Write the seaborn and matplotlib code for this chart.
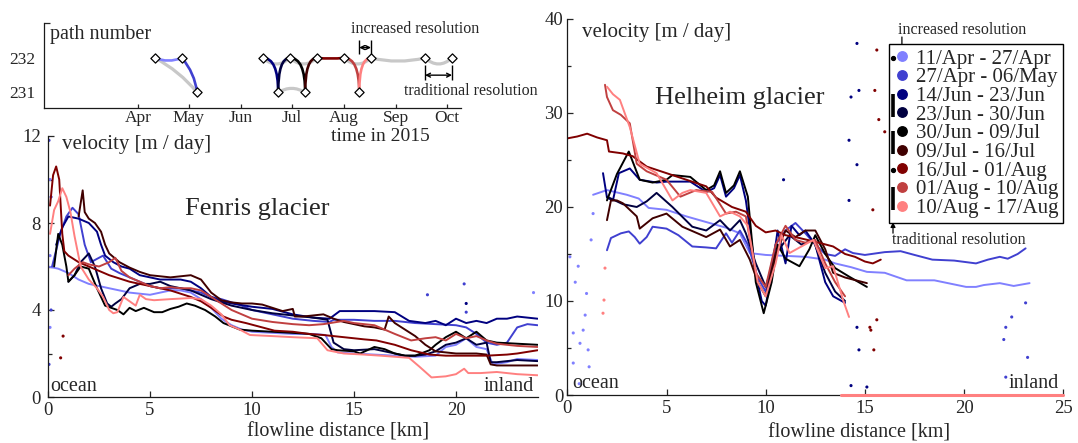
import numpy as np
import pandas as pd
import matplotlib
matplotlib.use("Agg")
import matplotlib.pyplot as plt
import seaborn as sns
from matplotlib.patches import FancyArrowPatch
from matplotlib.lines import Line2D

# ---------------- data ----------------
period_start = ['2015-04-11', '2015-04-27', '2015-06-14', '2015-06-23', '2015-06-30',
                '2015-07-09', '2015-07-16', '2015-08-01', '2015-08-10']
period_end = ['2015-04-27', '2015-05-06', '2015-06-23', '2015-06-30', '2015-07-09',
              '2015-07-16', '2015-08-01', '2015-08-10', '2015-08-17']
path_start = [232, 232, 232, 231, 232, 231, 232, 232, 231]
path_end = [232, 231, 231, 232, 231, 232, 232, 231, 232]
period_colors = ['#8080ff', '#4040d0', '#000080', '#000040', '#000000',
                 '#400000', '#800000', '#c04040', '#ff8080']

trad_start = ['2015-04-11', '2015-06-14', '2015-06-23', '2015-06-30', '2015-08-01', '2015-08-17', '2015-09-18']
trad_end = ['2015-05-06', '2015-06-30', '2015-07-09', '2015-07-16', '2015-08-17', '2015-09-18', '2015-10-04']
trad_path_start = [232, 232, 231, 232, 232, 232, 232]
trad_path_end = [231, 232, 231, 232, 232, 232, 232]

month_ticks = ['2015-04-01', '2015-05-01', '2015-06-01', '2015-07-01', '2015-08-01', '2015-09-01', '2015-10-01']

# Fenris glacier (flowline km, velocity m/day)
fen1_km = [0.0, 0.5, 1.0, 1.5, 2.0, 2.5, 3.0, 3.5, 4.0, 4.5, 5.0, 5.5, 6.0, 6.5, 7.0, 7.5, 8.0, 8.5, 9.0, 9.5, 10.0, 11.0, 12.0, 13.0, 13.6, 13.9, 14.2, 15.0, 16.0, 17.0, 18.0, 19.0, 19.5, 20.0, 20.5, 21.0, 21.5, 21.8, 22.5, 23.0, 24.0]
fen1_v = [6.0, 5.9, 5.7, 5.4, 5.2, 5.1, 5.0, 4.9, 4.8, 4.75, 4.7, 4.8, 4.9, 4.9, 4.8, 4.5, 4.1, 3.6, 3.3, 3.1, 3.0, 2.95, 2.9, 2.9, 2.85, 2.3, 2.05, 2.0, 1.95, 1.9, 1.85, 1.9, 2.3, 2.4, 2.7, 2.3, 2.2, 1.5, 1.6, 1.75, 1.7]
fen2_km = [0.2, 0.6, 0.9, 1.2, 1.5, 1.8, 2.1, 2.5, 2.7, 3.1, 3.5, 4.0, 4.5, 5.0, 5.5, 6.0, 6.5, 7.0, 7.5, 8.0, 8.5, 9.0, 9.5, 10.0, 11.0, 12.0, 13.0, 13.8, 14.0, 15.0, 16.0, 17.0, 18.0, 19.0, 20.0, 20.5, 21.0, 21.5, 22.0, 22.5, 23.0, 23.5, 24.0]
fen2_v = [6.0, 7.5, 8.3, 8.7, 8.4, 7.0, 6.2, 6.4, 6.5, 5.9, 5.7, 5.5, 5.3, 5.1, 5.0, 5.0, 5.0, 4.9, 4.8, 4.6, 4.5, 4.35, 4.2, 4.0, 3.8, 3.6, 3.5, 3.45, 3.55, 3.55, 3.5, 3.5, 3.4, 3.35, 3.3, 3.2, 2.9, 2.5, 2.4, 2.5, 3.2, 3.35, 3.3]
fen3_km = [0.4, 0.7, 1.0, 1.5, 2.0, 2.4, 2.6, 2.8, 3.2, 3.6, 4.0, 4.5, 5.0, 5.5, 6.0, 6.5, 7.0, 7.5, 8.0, 8.5, 9.0, 10.0, 11.0, 12.0, 13.0, 13.8, 14.3, 15.0, 16.0, 17.0, 17.7, 18.5, 19.0, 19.5, 20.0, 20.5, 21.0, 21.5, 22.0, 22.5, 23.0, 24.0]
fen3_v = [7.0, 7.8, 8.3, 8.2, 8.0, 7.6, 7.0, 6.5, 6.2, 6.0, 5.9, 5.6, 5.5, 5.4, 5.4, 5.4, 5.3, 5.0, 4.6, 4.4, 4.3, 4.15, 4.05, 3.8, 3.65, 3.6, 3.95, 3.95, 3.95, 3.9, 3.5, 3.4, 3.5, 3.3, 3.6, 3.4, 3.5, 3.4, 3.6, 3.6, 3.7, 3.6]
fen4_km = [1.0, 1.3, 1.6, 2.0, 2.3, 2.6, 2.9, 3.1, 3.3, 3.6, 4.0, 4.5, 5.0, 5.5, 6.0, 6.5, 7.0, 7.5, 8.0, 9.0, 10.0, 11.0, 12.0, 13.0, 13.7, 14.0, 14.5, 15.0, 16.0, 17.0, 17.5, 18.0, 18.5, 19.0, 19.5, 20.0, 20.5, 21.0, 21.5, 21.7, 22.0, 23.0, 24.0]
fen4_v = [5.3, 5.6, 6.2, 6.6, 6.0, 5.0, 4.3, 4.15, 4.3, 4.5, 5.0, 5.2, 5.2, 5.3, 5.1, 5.0, 4.9, 4.7, 4.5, 4.2, 4.0, 3.85, 3.75, 3.65, 3.55, 2.5, 2.2, 2.15, 2.2, 2.0, 1.9, 1.9, 1.95, 2.1, 2.4, 2.5, 2.7, 2.4, 2.5, 1.6, 1.6, 1.7, 1.65]
fen5_km = [0.3, 0.5, 0.7, 0.9, 1.0, 1.3, 1.6, 2.0, 2.4, 2.8, 3.1, 3.4, 3.7, 4.0, 4.3, 4.7, 5.2, 5.6, 6.0, 6.4, 6.8, 7.2, 7.7, 8.2, 8.6, 9.0, 9.4, 10.0, 11.0, 12.0, 12.8, 13.4, 13.9, 14.2, 15.0, 15.3, 16.0, 16.5, 17.0, 17.5, 18.0, 18.7, 19.0, 19.5, 20.0, 20.5, 21.0, 21.5, 22.0, 23.0, 24.0]
fen5_v = [6.0, 7.5, 7.0, 6.0, 5.3, 5.6, 6.0, 5.9, 5.0, 4.2, 4.1, 4.0, 3.8, 4.1, 3.95, 4.1, 3.9, 3.9, 4.05, 4.15, 4.3, 4.2, 4.0, 3.7, 3.4, 3.25, 3.1, 3.05, 3.0, 2.95, 2.9, 2.7, 2.2, 2.15, 2.1, 2.0, 2.3, 2.2, 2.0, 1.9, 1.9, 2.15, 2.4, 2.75, 3.0, 2.7, 3.0, 2.6, 2.5, 2.45, 2.4]
fen6_km = [1.5, 1.7, 1.8, 2.0, 2.3, 2.6, 2.8, 3.0, 3.5, 4.0, 4.5, 5.0, 5.5, 6.0, 6.5, 7.0, 7.5, 8.0, 8.5, 9.0, 9.5, 10.0, 10.5, 11.0, 11.5, 12.0, 12.1, 12.5, 13.0, 13.5, 14.0, 14.5, 15.0, 15.5, 16.0, 16.5, 16.7, 17.0, 17.5, 18.0, 18.5, 19.0, 20.0, 21.0, 21.5, 21.7, 22.0, 23.0, 24.0]
fen6_v = [8.3, 9.5, 8.5, 8.2, 8.0, 7.6, 7.0, 6.6, 6.2, 5.95, 5.75, 5.6, 5.55, 5.5, 5.55, 5.6, 5.4, 4.8, 4.45, 4.35, 4.3, 4.3, 4.25, 4.1, 3.95, 4.05, 3.7, 3.7, 3.75, 3.8, 3.6, 3.45, 3.35, 3.25, 3.2, 3.1, 3.7, 3.4, 3.1, 2.8, 2.4, 2.1, 2.0, 2.0, 1.95, 1.5, 1.45, 1.45, 1.45]
fen7_km = [0.1, 0.25, 0.4, 0.55, 0.7, 0.8, 1.0, 1.5, 2.0, 2.5, 3.0, 3.5, 4.0, 4.5, 5.0, 6.0, 7.0, 7.5, 8.0, 8.6, 9.0, 9.7, 10.5, 11.1, 12.0, 12.8, 13.5, 14.5, 15.5, 16.1, 17.0, 17.8, 18.7, 19.5, 20.4, 21.5, 22.5, 23.0, 24.0]
fen7_v = [8.8, 10.2, 10.6, 10.0, 7.5, 6.7, 6.5, 6.2, 6.0, 5.8, 5.6, 5.45, 5.3, 5.2, 5.1, 4.9, 4.6, 4.4, 4.1, 3.7, 3.55, 3.4, 3.2, 3.05, 3.0, 2.9, 2.85, 2.75, 2.65, 2.6, 2.4, 2.15, 1.95, 1.9, 1.9, 1.9, 1.95, 2.0, 2.15]
fen8_km = [1.0, 1.3, 1.7, 2.0, 2.5, 3.0, 3.3, 3.6, 4.0, 4.5, 5.0, 5.5, 6.0, 6.5, 7.0, 7.5, 8.0, 8.5, 9.0, 9.5, 10.0, 11.0, 12.0, 12.8, 13.5, 14.5, 15.0, 16.0, 16.5, 17.0, 17.8, 18.5, 19.0, 19.5, 20.0, 20.5, 21.0, 21.5, 22.0, 23.0, 24.0]
fen8_v = [5.6, 5.9, 6.2, 6.1, 6.0, 6.2, 6.4, 5.8, 5.5, 5.3, 5.1, 5.0, 5.05, 5.0, 5.0, 4.9, 4.6, 4.3, 4.0, 3.8, 3.6, 3.45, 3.35, 3.3, 3.35, 3.5, 3.4, 3.3, 3.1, 2.9, 2.6, 2.7, 2.75, 2.6, 2.9, 2.7, 2.8, 2.6, 2.45, 2.35, 2.3]
fen9_km = [0.1, 0.3, 0.5, 0.7, 0.9, 1.1, 1.3, 1.6, 2.0, 2.4, 2.7, 3.0, 3.2, 3.4, 3.7, 4.0, 4.3, 4.5, 4.8, 5.2, 6.0, 7.0, 7.5, 8.0, 8.5, 8.9, 9.4, 9.9, 11.0, 12.0, 13.2, 13.7, 14.5, 15.5, 16.3, 17.0, 17.7, 18.2, 18.8, 19.5, 20.0, 20.4, 20.6, 21.2, 22.0, 23.0, 24.0]
fen9_v = [7.5, 8.6, 9.0, 9.6, 9.2, 8.5, 7.4, 6.0, 5.4, 5.0, 4.6, 4.0, 3.85, 3.9, 4.6, 4.4, 4.2, 4.7, 4.5, 4.45, 4.5, 4.55, 4.5, 4.2, 3.8, 3.3, 3.1, 2.85, 2.8, 2.75, 2.7, 2.15, 2.0, 1.95, 1.9, 1.85, 1.8, 1.4, 0.9, 0.95, 1.05, 1.3, 1.1, 1.1, 1.15, 1.05, 1.0]
fen_dot_km = [0.05, 0.1, 0.15, 0.1, 0.15, 0.1, 0.05, 0.62, 0.74, 20.4, 20.5, 20.5, 18.6, 23.8]
fen_dot_v = [11.8, 10.0, 9.2, 6.5, 4.0, 3.2, 1.5, 1.8, 2.8, 5.2, 4.3, 3.9, 4.7, 4.8]
fen_dot_series = [1, 0, 1, 0, 1, 0, 1, 6, 6, 1, 2, 1, 1, 0]

# Helheim glacier
hel1_km = [1.3, 2.0, 3.0, 3.6, 4.1, 5.0, 6.0, 7.0, 8.0, 8.7, 9.2, 10.0, 11.0, 12.0, 13.0, 13.5, 14.3, 15.1, 16.0, 17.1, 18.5, 20.1, 20.6, 21.0, 21.8, 22.5, 23.3]
hel1_v = [21.3, 21.8, 21.3, 20.9, 19.9, 19.7, 19.0, 18.4, 17.8, 17.2, 15.1, 14.9, 14.8, 14.7, 14.4, 14.0, 13.6, 13.1, 13.0, 12.2, 12.2, 11.5, 11.5, 11.7, 11.9, 11.6, 11.9]
hel2_km = [2.0, 2.2, 2.7, 3.1, 3.4, 3.65, 4.0, 4.3, 5.0, 5.6, 6.3, 7.0, 7.5, 8.0, 8.3, 8.7, 9.1, 9.6, 10.0, 10.5, 11.0, 11.5, 12.0, 12.5, 13.0, 13.5, 14.0, 14.4, 15.0, 16.0, 16.8, 17.5, 18.4, 19.5, 20.6, 21.2, 21.8, 22.2, 22.7, 23.1]
hel2_v = [15.4, 16.7, 17.2, 17.4, 16.8, 16.1, 16.8, 17.9, 17.7, 17.0, 15.8, 15.7, 15.6, 17.2, 16.2, 17.5, 16.0, 12.5, 11.0, 16.0, 17.5, 18.3, 17.2, 16.0, 15.0, 14.8, 15.5, 15.1, 14.9, 15.2, 15.3, 14.9, 14.4, 14.3, 14.0, 14.4, 14.7, 14.5, 15.0, 15.6]
hel3_km = [1.8, 2.0, 2.3, 2.6, 3.15, 3.65, 4.5, 5.0, 6.2, 7.0, 7.4, 7.7, 8.0, 8.4, 8.7, 9.0, 9.5, 9.8, 10.0, 10.3, 10.6, 11.0, 11.3, 11.7, 12.0, 12.5, 13.0, 13.4, 14.0]
hel3_v = [23.6, 21.0, 20.7, 23.6, 24.1, 22.9, 22.6, 22.7, 22.7, 21.6, 22.0, 23.4, 21.1, 22.0, 23.4, 20.7, 13.0, 10.0, 9.5, 13.0, 17.5, 14.0, 18.0, 17.0, 17.5, 16.0, 12.0, 10.5, 9.8]
hel4_km = [2.0, 2.8, 3.5, 4.0, 4.5, 5.3, 6.3, 7.0, 7.7, 8.2, 8.7, 9.0, 9.5, 10.0, 10.5, 11.2, 11.8, 12.4, 13.0, 13.5, 14.0]
hel4_v = [21.1, 20.3, 20.0, 20.6, 21.5, 20.0, 17.9, 17.5, 18.6, 17.5, 18.6, 17.2, 14.0, 11.5, 15.0, 17.0, 16.0, 16.5, 13.0, 11.0, 10.0]
hel5_km = [2.0, 2.5, 3.1, 3.65, 4.3, 5.0, 5.3, 6.2, 7.0, 7.4, 7.7, 8.0, 8.4, 8.7, 9.1, 9.5, 9.9, 10.3, 10.6, 11.0, 11.7, 12.2, 12.5, 13.0, 13.5, 14.2, 15.1]
hel5_v = [20.7, 23.5, 25.9, 22.9, 22.6, 22.9, 23.4, 23.2, 21.8, 22.3, 23.8, 21.5, 22.3, 23.8, 21.1, 12.0, 8.7, 12.0, 16.0, 14.5, 13.7, 15.5, 17.0, 15.0, 13.5, 12.6, 11.5]
hel6_km = [2.0, 2.2, 2.5, 2.8, 3.5, 3.65, 4.3, 5.0, 5.8, 7.0, 7.7, 8.2, 8.7, 9.2, 9.6, 10.0, 10.5, 11.0, 11.5, 12.0, 12.5, 13.0, 13.4, 14.0, 15.1]
hel6_v = [18.6, 20.7, 20.7, 20.4, 19.0, 17.7, 18.8, 19.3, 17.9, 16.8, 17.6, 15.8, 16.5, 14.4, 12.0, 10.5, 15.0, 17.5, 16.8, 17.5, 17.5, 15.5, 13.0, 12.5, 11.9]
hel7_km = [0.0, 0.5, 1.0, 1.5, 2.0, 2.1, 2.8, 3.3, 4.0, 5.0, 6.0, 7.0, 7.5, 8.3, 9.0, 9.5, 10.0, 10.5, 11.0, 11.7, 12.5, 13.4, 14.0, 14.5, 15.0, 15.4, 15.8]
hel7_v = [27.3, 27.5, 27.8, 27.4, 27.1, 25.9, 25.7, 25.4, 24.3, 23.6, 22.9, 22.2, 21.0, 20.0, 19.5, 18.0, 17.3, 17.5, 17.0, 16.7, 16.3, 15.8, 15.0, 14.7, 14.2, 14.0, 14.4]
hel8_km = [1.9, 2.0, 2.3, 2.7, 3.15, 3.5, 4.0, 5.0, 5.7, 6.5, 7.3, 8.0, 8.5, 9.0, 9.5, 10.0, 10.5, 11.0, 11.5, 12.0, 12.5, 13.0, 13.5, 14.0]
hel8_v = [33.0, 31.7, 30.3, 29.8, 28.9, 24.6, 23.8, 22.9, 21.1, 21.8, 21.6, 19.3, 19.5, 19.0, 13.0, 11.5, 16.0, 18.0, 16.5, 16.2, 16.5, 14.0, 12.0, 10.5]
hel9_km = [2.0, 2.3, 2.65, 3.15, 3.65, 4.5, 5.3, 5.8, 6.2, 7.0, 7.7, 8.2, 8.7, 9.1, 9.6, 10.0, 10.5, 10.8, 11.2, 11.8, 12.4, 13.0, 13.4, 13.9, 14.2]
hel9_v = [32.8, 32.0, 31.4, 28.5, 24.6, 23.6, 20.7, 21.5, 21.8, 21.5, 19.0, 19.5, 19.0, 18.0, 12.0, 10.5, 14.0, 17.0, 15.1, 15.8, 16.5, 13.5, 13.7, 10.1, 8.3]
hel_zero_km = [13.8, 25.0]
hel_zero_v = [0.0, 0.0]
hel_dot_km = [0.13, 0.3, 0.55, 0.64, 0.8, 0.97, 1.1, 1.2, 1.3, 0.6, 1.05, 0.3, 0.4, 0.9,
              1.8, 1.85, 1.9,
              14.6, 14.7, 14.3, 14.2, 14.6, 14.2, 14.6, 14.7, 15.1, 14.3,
              15.6, 15.5, 15.7, 15.4, 15.3, 15.45, 15.25, 15.6, 16.0,
              22.1, 22.0, 23.1, 23.2, 22.4, 22.1, 10.9]
hel_dot_v = [14.7, 6.6, 13.7, 5.5, 6.9, 10.8, 3.0, 16.5, 19.3, 1.2, 4.8, 3.4, 12.0, 8.5,
             8.7, 10.1, 13.5,
             37.4, 32.4, 31.7, 27.1, 24.5, 20.7, 7.2, 4.8, 0.85, 1.0,
             36.7, 32.4, 29.3, 19.7, 6.9, 4.8, 7.2, 8.0, 28.0,
             7.2, 5.9, 9.8, 4.0, 8.3, 1.9, 22.9]
hel_dot_series = [0] * 14 + [8] * 3 + [2] * 10 + [6] * 9 + [1] * 6 + [2]

# legend side marks: pairs of rows joined by a bar, single rows with a dot
pair_rows = [(2, 3), (4, 5), (7, 8)]
single_rows = [0, 6]

# ---------------- style ----------------
sns.set_theme(style='ticks')
plt.rcParams['font.family'] = ['Liberation Serif', 'DejaVu Serif']
plt.rcParams['axes.unicode_minus'] = False

W, H = 1078, 443
fig = plt.figure(figsize=(W / 100, H / 100), dpi=100)


def px_rect(x0, y0, x1, y1):
    return [x0 / W, 1 - y1 / H, (x1 - x0) / W, (y1 - y0) / H]


ax_f = fig.add_axes(px_rect(48, 136, 537.6, 397))
ax_h = fig.add_axes(px_rect(567.3, 19, 1063.3, 395))
ax_p = fig.add_axes(px_rect(43.8, 23.4, 461, 107.6))

start_dt = pd.to_datetime(period_start)
end_dt = pd.to_datetime(period_end)
start_day = start_dt.dayofyear.to_numpy()
end_day = end_dt.dayofyear.to_numpy()
labels = [f"{a} - {b}" for a, b in zip(start_dt.strftime('%d/%b'), end_dt.strftime('%d/%b'))]
palette = dict(zip(labels, period_colors))

for ax in (ax_f, ax_h, ax_p):
    ax.set_facecolor('none')
    for s in ('top', 'right'):
        ax.spines[s].set_visible(False)
    for s in ('left', 'bottom'):
        ax.spines[s].set_linewidth(0.9)
        ax.spines[s].set_color('#1a1a1a')


def long_df(series):
    frames = []
    for lab, (km, v) in zip(labels, series):
        frames.append(pd.DataFrame({'km': km, 'v': v, 'period': lab}))
    return pd.concat(frames, ignore_index=True)


fen_series = [(fen1_km, fen1_v), (fen2_km, fen2_v), (fen3_km, fen3_v), (fen4_km, fen4_v),
              (fen5_km, fen5_v), (fen6_km, fen6_v), (fen7_km, fen7_v), (fen8_km, fen8_v),
              (fen9_km, fen9_v)]
hel_series = [(hel1_km, hel1_v), (hel2_km, hel2_v), (hel3_km, hel3_v), (hel4_km, hel4_v),
              (hel5_km, hel5_v), (hel6_km, hel6_v), (hel7_km, hel7_v), (hel8_km, hel8_v),
              (hel9_km, hel9_v)]

# ---------------- Fenris ----------------
df_f = long_df(fen_series)
sns.lineplot(data=df_f, x='km', y='v', hue='period', hue_order=labels, palette=palette,
             estimator=None, sort=False, linewidth=1.4, legend=False, ax=ax_f)
sns.scatterplot(x=fen_dot_km, y=fen_dot_v, hue=[labels[i] for i in fen_dot_series],
                palette=palette, s=5, linewidth=0, legend=False, ax=ax_f)
ax_f.set_xlim(0, 24)
ax_f.set_ylim(0, 12)
ax_f.set_xticks([0, 5, 10, 15, 20])
ax_f.set_yticks([0, 4, 8, 12])
ax_f.set_yticks([2, 6, 10], minor=True)
ax_f.tick_params(axis='both', which='major', direction='in', length=4, width=0.9, labelsize=13.5)
ax_f.tick_params(axis='y', which='both', pad=5)
ax_f.tick_params(axis='y', which='minor', direction='in', length=3, width=0.9)
ax_f.set_ylabel('')
ax_f.text(0.029, 0.969, 'velocity [m / day]', transform=ax_f.transAxes, ha='left', va='center', fontsize=15)
ax_f.text(0.427, 0.72, 'Fenris glacier', transform=ax_f.transAxes, ha='center', va='center', fontsize=19)
ax_f.text(0.004, 0.005, 'ocean', transform=ax_f.transAxes, ha='left', va='bottom', fontsize=14.5)
ax_f.text(0.993, 0.005, 'inland', transform=ax_f.transAxes, ha='right', va='bottom', fontsize=14.5)

# ---------------- Helheim ----------------
df_h = long_df(hel_series)
sns.lineplot(data=df_h, x='km', y='v', hue='period', hue_order=labels, palette=palette,
             estimator=None, sort=False, linewidth=1.4, legend=False, ax=ax_h)
sns.scatterplot(x=hel_dot_km, y=hel_dot_v, hue=[labels[i] for i in hel_dot_series],
                palette=palette, s=5, linewidth=0, legend=False, ax=ax_h)
sns.lineplot(x=hel_zero_km, y=hel_zero_v, color=period_colors[8], linewidth=2.2, ax=ax_h,
             estimator=None, sort=False, legend=False, clip_on=False, zorder=5)
ax_h.set_xlim(0, 25)
ax_h.set_ylim(0, 40)
ax_h.set_xticks([0, 5, 10, 15, 20, 25])
ax_h.set_yticks([0, 10, 20, 30, 40])
ax_h.set_yticks([5, 15, 25, 35], minor=True)
ax_h.tick_params(axis='both', which='major', direction='in', length=4, width=0.9, labelsize=13.5)
ax_h.tick_params(axis='y', which='both', pad=3)
ax_h.tick_params(axis='y', which='minor', direction='in', length=3, width=0.9)
ax_h.set_ylabel('')
ax_h.text(0.029, 0.965, 'velocity [m / day]', transform=ax_h.transAxes, ha='left', va='center', fontsize=15)
ax_h.text(0.347, 0.789, 'Helheim glacier', transform=ax_h.transAxes, ha='center', va='center', fontsize=19)
ax_h.text(0.01, 0.005, 'ocean', transform=ax_h.transAxes, ha='left', va='bottom', fontsize=14.5)
ax_h.text(0.99, 0.005, 'inland', transform=ax_h.transAxes, ha='right', va='bottom', fontsize=14.5)

handles = [Line2D([], [], ls='none', marker='o', ms=6.8, mfc=c, mec=c) for c in period_colors]
leg = ax_h.legend(handles, labels, loc='upper right', bbox_to_anchor=(1.0, (395 - 44) / 376),
                  bbox_transform=ax_h.transAxes, frameon=True, fancybox=False, edgecolor='black',
                  framealpha=1, fontsize=15, handlelength=0.75, handletextpad=0.3, borderpad=0.25,
                  labelspacing=-0.045, borderaxespad=0)
leg.get_frame().set_linewidth(1.0)

# ---------------- path inset ----------------
ax_p.set_xlim(35.2, 282.3)
ax_p.set_ylim(230.56, 233.0)
month_days = pd.to_datetime(month_ticks).dayofyear.to_numpy()

trad_s = pd.to_datetime(trad_start).dayofyear.to_numpy()
trad_e = pd.to_datetime(trad_end).dayofyear.to_numpy()
trad_rad = [-0.1, 0.45, -0.3, 0.45, 0.45, 0.12, 0.45]
for a, b, pa, pb, r in zip(trad_s, trad_e, trad_path_start, trad_path_end, trad_rad):
    ax_p.add_patch(FancyArrowPatch((a, pa), (b, pb), arrowstyle='-', connectionstyle=f'arc3,rad={r}',
                                   color='#c8c8c8', lw=2.3, shrinkA=0, shrinkB=0, zorder=2))

conn = ['arc3,rad=0.2', 'arc3,rad=-0.15', 'angle3,angleA=0,angleB=90', 'angle3,angleA=90,angleB=0',
        'angle3,angleA=0,angleB=90', 'angle3,angleA=90,angleB=0', 'arc3,rad=0.05',
        'angle3,angleA=0,angleB=90', 'angle3,angleA=90,angleB=0']
for a, b, pa, pb, c, cs in zip(start_day, end_day, path_start, path_end, period_colors, conn):
    ax_p.add_patch(FancyArrowPatch((a, pa), (b, pb), arrowstyle='-', connectionstyle=cs,
                                   color=c, lw=1.9, shrinkA=0, shrinkB=0, zorder=3))

nodes = pd.DataFrame({'day': np.concatenate([start_day, end_day, trad_s, trad_e]),
                      'path': np.concatenate([path_start, path_end, trad_path_start, trad_path_end])}).drop_duplicates()
sns.scatterplot(data=nodes, x='day', y='path', marker='D', s=22, color='white', edgecolor='black',
                linewidth=0.9, zorder=5, legend=False, ax=ax_p, clip_on=False)
ax_p.set_xlim(35.2, 282.3)
ax_p.set_ylim(230.56, 233.0)
ax_p.set_xticks(month_days)
ax_p.set_xticklabels(pd.to_datetime(month_ticks).strftime('%b'))
ax_p.set_yticks([231, 232])
ax_p.set_yticks([233], minor=True)
ax_p.tick_params(axis='x', direction='in', length=3, width=0.9, labelsize=12.5, pad=1.5)
ax_p.tick_params(axis='y', which='major', length=0, labelsize=12.5, pad=6)
ax_p.tick_params(axis='y', which='minor', direction='in', length=4, width=0.9)
ax_p.set_ylabel('')
ax_p.text(0.015, 0.868, 'path number', transform=ax_p.transAxes, ha='left', va='center', fontsize=14.5)

inc_a, inc_b = start_day[8], end_day[8]
ax_p.annotate('', xy=(inc_b, 232.3), xytext=(inc_a, 232.3),
              arrowprops=dict(arrowstyle='<->', lw=1.0, color='black', shrinkA=0, shrinkB=0, mutation_scale=7))
ax_p.vlines([inc_a, inc_b], 232.12, 232.52, color='black', lw=1.0)
ax_p.text(0.891, 0.93, 'increased resolution', transform=ax_p.transAxes, ha='center', va='center',
          fontsize=11.5, clip_on=False)
tr_a, tr_b = trad_s[-1], trad_e[-1]
ax_p.annotate('', xy=(tr_b, 231.5), xytext=(tr_a, 231.5),
              arrowprops=dict(arrowstyle='<->', lw=1.0, color='black', shrinkA=0, shrinkB=0, mutation_scale=7))
ax_p.vlines([tr_a, tr_b], 231.36, 231.8, color='black', lw=1.0)
ax_p.text(1.023, 0.192, 'traditional resolution', transform=ax_p.transAxes, ha='center', va='center',
          fontsize=11.5, clip_on=False)

# axis titles (set last so seaborn does not override them)
ax_f.set_xlabel('flowline distance [km]', fontsize=14.5, va='center')
ax_f.xaxis.set_label_coords(0.592, -0.134)
ax_h.set_xlabel('flowline distance [km]', fontsize=14.5, va='center')
ax_h.xaxis.set_label_coords(0.588, -0.101)
ax_p.set_xlabel('time in 2015', fontsize=14, va='center')
ax_p.xaxis.set_label_coords(0.806, -0.345)

# ---------------- legend side marks ----------------
fig.canvas.draw()
rend = fig.canvas.get_renderer()
fb = leg.get_frame().get_window_extent(rend)
row_y = []
for t in leg.get_texts():
    bb = t.get_window_extent(rend)
    row_y.append((bb.y0 + bb.y1) / 2 + 1)
bar_x = fb.x0 + 4.5
mk_x = fb.x0 + 13.4
for ra, rb in pair_rows:
    fig.add_artist(Line2D([bar_x / W, bar_x / W], [(row_y[ra] + 1.5) / H, (row_y[rb] - 2.5) / H],
                          transform=fig.transFigure, color='black', lw=2.6, solid_capstyle='butt'))
for r in single_rows:
    fig.add_artist(Line2D([bar_x / W], [row_y[r] / H], transform=fig.transFigure, ls='none',
                          marker='o', ms=2.8, color='black'))
top_y = fb.y1
ax_h.text(fb.x0 + 9.5, top_y + 14, 'increased resolution', transform=None, ha='left', va='center',
          fontsize=11.5)
ax_h.annotate('', xy=(mk_x, row_y[0] + 5), xycoords='figure pixels',
              xytext=(mk_x, top_y + 7), textcoords='figure pixels',
              arrowprops=dict(arrowstyle='-|>', lw=0.9, color='black', mutation_scale=7,
                              shrinkA=0, shrinkB=0))
ax_h.text(fb.x0 + 3.5, fb.y0 - 17, 'traditional resolution', transform=None, ha='left', va='center',
          fontsize=11.5)
ax_h.annotate('', xy=(bar_x, fb.y0 + 1), xycoords='figure pixels',
              xytext=(bar_x, fb.y0 - 10), textcoords='figure pixels',
              arrowprops=dict(arrowstyle='-|>', lw=0.9, color='black', mutation_scale=7,
                              shrinkA=0, shrinkB=0))

fig.savefig('out.png', dpi=100)
